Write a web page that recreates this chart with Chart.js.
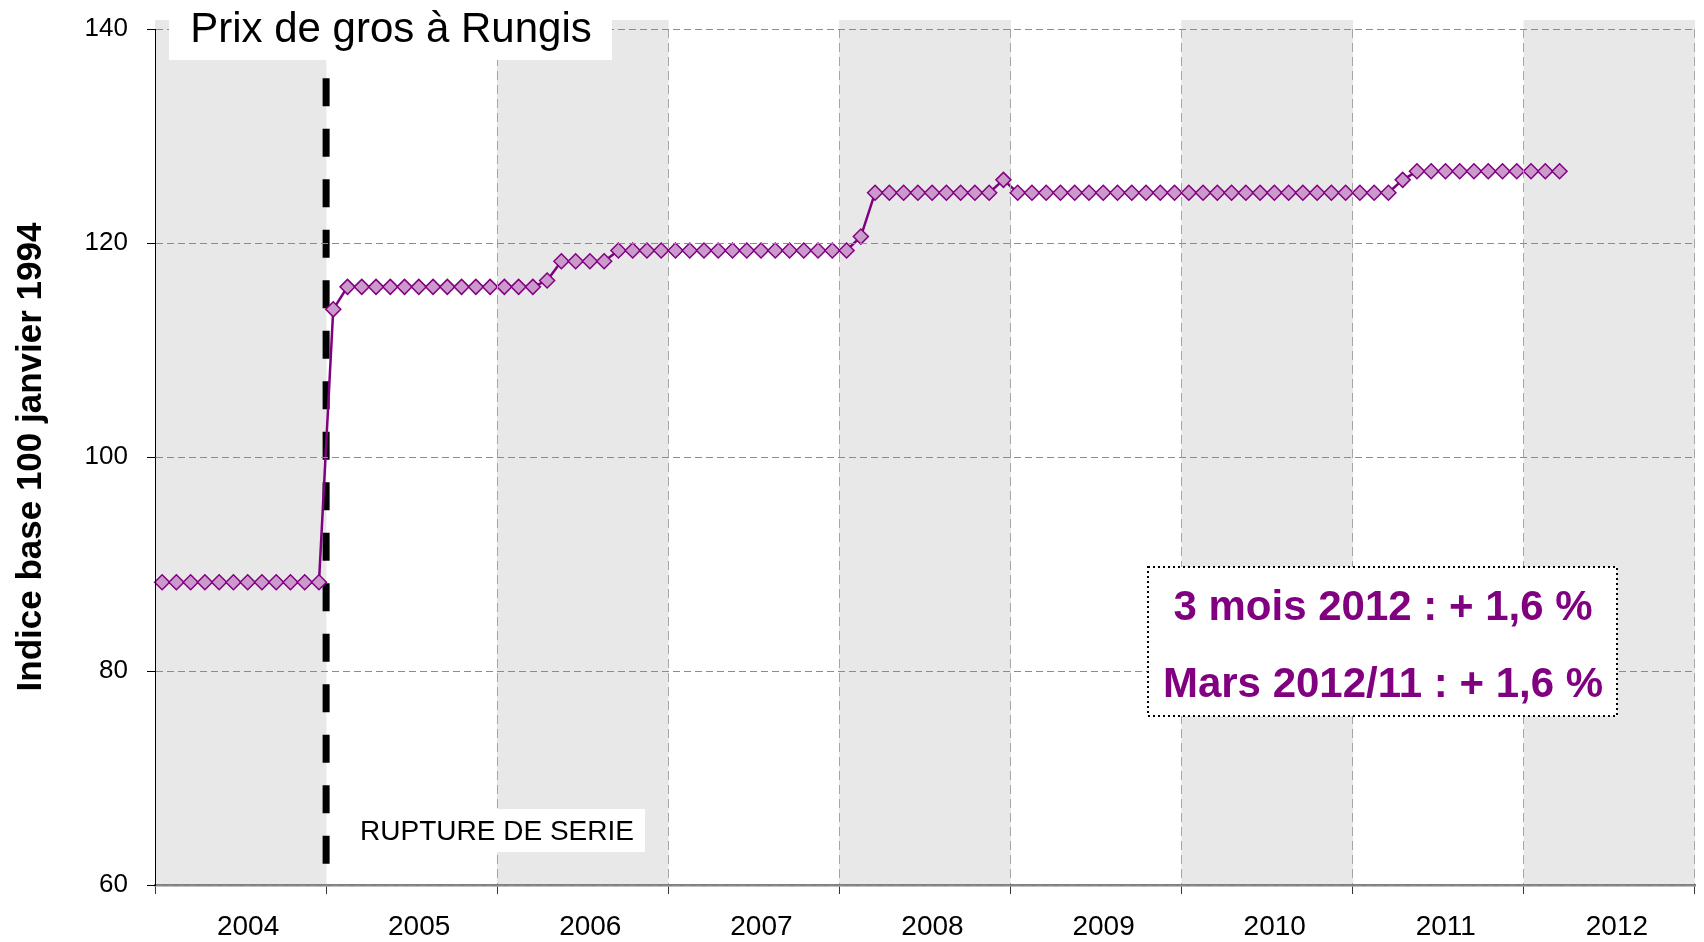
<!DOCTYPE html>
<html>
<head>
<meta charset="utf-8">
<script src="https://cdn.jsdelivr.net/npm/chart.js@4.4.1/dist/chart.umd.min.js"></script>
<style>
  html, body { margin: 0; padding: 0; background: #fff; }
  #wrap { width: 1704px; height: 942px; }
</style>
</head>
<body>
<div id="wrap"><canvas id="chart" width="1704" height="942"></canvas></div>
<script>
(function () {
    "use strict";

    // Années de l'axe horizontal
    const annees = ["2004", "2005", "2006", "2007", "2008", "2009", "2010", "2011", "2012"];

    // Indice mensuel, une liste par année (base 100 janvier 1994)
    const prix2004 = [88.3, 88.3, 88.3, 88.3, 88.3, 88.3, 88.3, 88.3, 88.3, 88.3, 88.3, 88.3];
    const prix2005 = [113.8, 115.9, 115.9, 115.9, 115.9, 115.9, 115.9, 115.9, 115.9, 115.9, 115.9, 115.9];
    const prix2006 = [115.9, 115.9, 115.9, 116.5, 118.3, 118.3, 118.3, 118.3, 119.3, 119.3, 119.3, 119.3];
    const prix2007 = [119.3, 119.3, 119.3, 119.3, 119.3, 119.3, 119.3, 119.3, 119.3, 119.3, 119.3, 119.3];
    const prix2008 = [119.3, 120.6, 124.7, 124.7, 124.7, 124.7, 124.7, 124.7, 124.7, 124.7, 124.7, 125.9];
    const prix2009 = [124.7, 124.7, 124.7, 124.7, 124.7, 124.7, 124.7, 124.7, 124.7, 124.7, 124.7, 124.7];
    const prix2010 = [124.7, 124.7, 124.7, 124.7, 124.7, 124.7, 124.7, 124.7, 124.7, 124.7, 124.7, 124.7];
    const prix2011 = [124.7, 124.7, 124.7, 125.9, 126.7, 126.7, 126.7, 126.7, 126.7, 126.7, 126.7, 126.7];
    const prix2012 = [126.7, 126.7, 126.7];

    // Bandes grises une année sur deux
    const bandes = [140.8, null, 140.8, null, 140.8, null, 140.8, null, 140.8];

    // Graduations de l'axe vertical
    const yMin = 60, yMax = 140, yPas = 20;

    // Rupture de série : entre décembre 2004 et janvier 2005
    const ruptureMois = "2004-12";
    const ruptureAnnee = "2005";
    const ruptureHaut = 135.4, ruptureBas = 61.8;

    const titre = "Prix de gros à Rungis";
    const titreAxe = "Indice base 100 janvier 1994";
    const texteRupture = "RUPTURE DE SERIE";
    const encadre = ["3 mois 2012 : + 1,6 %", "Mars 2012/11 : + 1,6 %"];

    // un libellé par mois, janvier 2004 à décembre 2012
    let mois = [];
    annees.forEach(function (a) {
        for (let m = 1; m <= 12; m++) {
            mois.push(a + "-" + (m < 10 ? "0" + m : m));
        }
    });

    let prix = [].concat(prix2004, prix2005, prix2006, prix2007, prix2008,
        prix2009, prix2010, prix2011, prix2012);

    const police = '"Liberation Sans", Arial, sans-serif';
    Chart.defaults.font.family = police;

    const decor = {
        id: "decor",
        afterDatasetDraw: function (chart, args) {
            // trait de rupture, au-dessus des bandes mais sous la courbe
            if (args.index !== 1) return;
            let ctx = chart.ctx;
            let xs = chart.scales.mois;
            let ys = chart.scales.y;
            let i = mois.indexOf(ruptureMois);
            let x = (xs.getPixelForValue(i) + xs.getPixelForValue(i + 1)) / 2;
            ctx.save();
            ctx.strokeStyle = "#000";
            ctx.lineWidth = 7;
            ctx.setLineDash([28, 22.5]);
            ctx.beginPath();
            ctx.moveTo(x, ys.getPixelForValue(ruptureHaut));
            ctx.lineTo(x, ys.getPixelForValue(ruptureBas));
            ctx.stroke();
            ctx.restore();
        },
        afterDraw: function (chart) {
            let ctx = chart.ctx;
            let a = chart.chartArea;
            ctx.save();

            // titre dans un cartouche blanc
            ctx.fillStyle = "#fff";
            ctx.fillRect(a.left + 14, 0, 443, 60);
            ctx.fillStyle = "#000";
            ctx.font = "42px " + police;
            ctx.textAlign = "center";
            ctx.textBaseline = "alphabetic";
            ctx.fillText(titre, a.left + 236, 42);

            // libellé de rupture
            ctx.fillStyle = "#fff";
            ctx.fillRect(348, 809, 297, 43);
            ctx.fillStyle = "#000";
            ctx.font = "28px " + police;
            ctx.fillText(texteRupture, 497, 840);

            // encadré des variations
            ctx.fillStyle = "#fff";
            ctx.fillRect(1148, 567, 469, 149);
            ctx.strokeStyle = "#000";
            ctx.lineWidth = 2;
            ctx.setLineDash([2, 3]);
            ctx.strokeRect(1148, 567, 469, 149);
            ctx.setLineDash([]);
            ctx.fillStyle = "#800080";
            ctx.font = "bold 42px " + police;
            ctx.fillText(encadre[0], 1383, 620);
            ctx.fillText(encadre[1], 1383, 697);

            ctx.restore();
        }
    };

    new Chart(document.getElementById("chart"), {
        type: "line",
        data: {
            datasets: [
                {
                    type: "line",
                    label: titre,
                    xAxisID: "mois",
                    data: prix,
                    borderColor: "#800080",
                    borderWidth: 2.5,
                    tension: 0,
                    pointStyle: "rectRot",
                    pointRadius: 7.5,
                    pointBackgroundColor: "#CC99CC",
                    pointBorderColor: "#800080",
                    pointBorderWidth: 1.5,
                    order: 1,
                },
                {
                    type: "bar",
                    xAxisID: "annees",
                    data: bandes,
                    backgroundColor: "#E8E8E8",
                    barPercentage: 1,
                    categoryPercentage: 1,
                    grouped: false,
                    order: 2,
                    clip: { left: 0, top: 10, right: 0, bottom: 0 },
                },
            ],
        },
        options: {
            responsive: false,
            animation: false,
            devicePixelRatio: 1,
            layout: { padding: { top: 29, right: 0, bottom: 0, left: 0 } },
            plugins: {
                legend: { display: false },
                tooltip: { enabled: false },
            },
            scales: {
                mois: {
                    axis: "x",
                    type: "category",
                    labels: mois,
                    offset: true,
                    display: false,
                },
                annees: {
                    axis: "x",
                    type: "category",
                    labels: annees,
                    position: "bottom",
                    offset: true,
                    grid: {
                        offset: true,
                        // la ligne de 2005 est recouverte par le trait de rupture
                        color: function (c) {
                            return c.index === annees.indexOf(ruptureAnnee) ? "rgba(0,0,0,0)" : "#A6A6A6";
                        },
                        lineWidth: 1,
                        z: 1,
                        tickColor: "#333",
                        tickLength: 9,
                    },
                    border: { color: "#808080", width: 2.5, dash: [9, 5], z: 1 },
                    ticks: {
                        color: "#000",
                        font: { size: 28 },
                        padding: 16,
                        labelOffset: 7.5,
                        autoSkip: false,
                        maxRotation: 0,
                    },
                    afterFit: function (s) { s.height = 57; },
                },
                y: {
                    min: yMin,
                    max: yMax,
                    ticks: {
                        stepSize: yPas,
                        color: "#000",
                        font: { size: 26 },
                        padding: 19,
                    },
                    grid: { color: "#8C8C8C", z: 1, tickColor: "#000", tickLength: 8 },
                    border: { color: "#000", width: 1, dash: [7, 4], z: 1 },
                    title: {
                        display: true,
                        text: titreAxe,
                        color: "#000",
                        font: { size: 35, weight: "bold" },
                        padding: { top: 10, bottom: 0 },
                    },
                    afterFit: function (s) {
                        s.width = 155;
                        s.paddingTop = 0;
                        s.paddingBottom = 0;
                    },
                },
            },
        },
        plugins: [decor],
    });
})();
</script>
</body>
</html>
